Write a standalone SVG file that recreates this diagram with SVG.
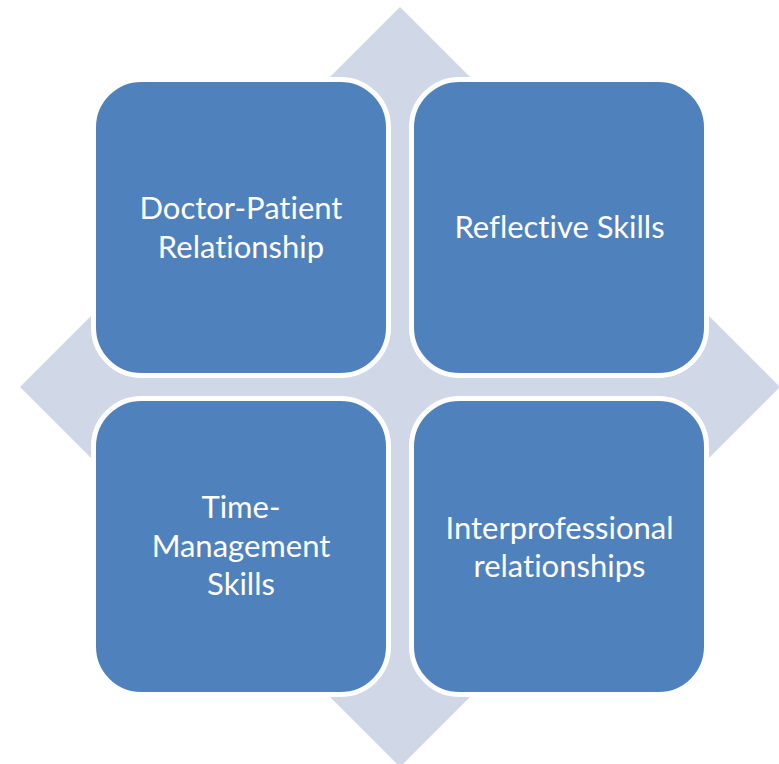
<svg xmlns="http://www.w3.org/2000/svg" width="779" height="764" viewBox="0 0 779 764">
<style>
.bg{fill:#D0D8E8}
.node rect{fill:#4F81BD;stroke:#FFFFFF;stroke-width:5}
.node text{fill:#FFFFFF;font-family:Lato,"Liberation Sans",sans-serif;font-size:31px;text-anchor:middle;font-variant-ligatures:none;font-feature-settings:"liga" 0,"clig" 0}
</style>
<rect width="779" height="764" fill="#FFFFFF"/>
<polygon class="bg" points="400,7 780,387 400,767 20,387"/>
<g id="connectors"></g>
<g id="node-doctor-patient" class="node">
<rect x="93.5" y="79.5" width="295" height="296" rx="48" ry="48"/>
<text x="241" y="219">Doctor-Patient</text>
<text x="241" y="258">Relationship</text>
</g>
<g id="node-reflective" class="node">
<rect x="411.5" y="79.5" width="295" height="296" rx="48" ry="48"/>
<text x="559.5" y="238">Reflective Skills</text>
</g>
<g id="node-time-management" class="node">
<rect x="93.5" y="398.5" width="295" height="296" rx="48" ry="48"/>
<text x="241" y="518">Time-</text>
<text x="241" y="557">Management</text>
<text x="241" y="595">Skills</text>
</g>
<g id="node-interprofessional" class="node">
<rect x="411.5" y="398.5" width="295" height="296" rx="48" ry="48"/>
<text x="559.5" y="539">Interprofessional</text>
<text x="559.5" y="577">relationships</text>
</g>
</svg>
